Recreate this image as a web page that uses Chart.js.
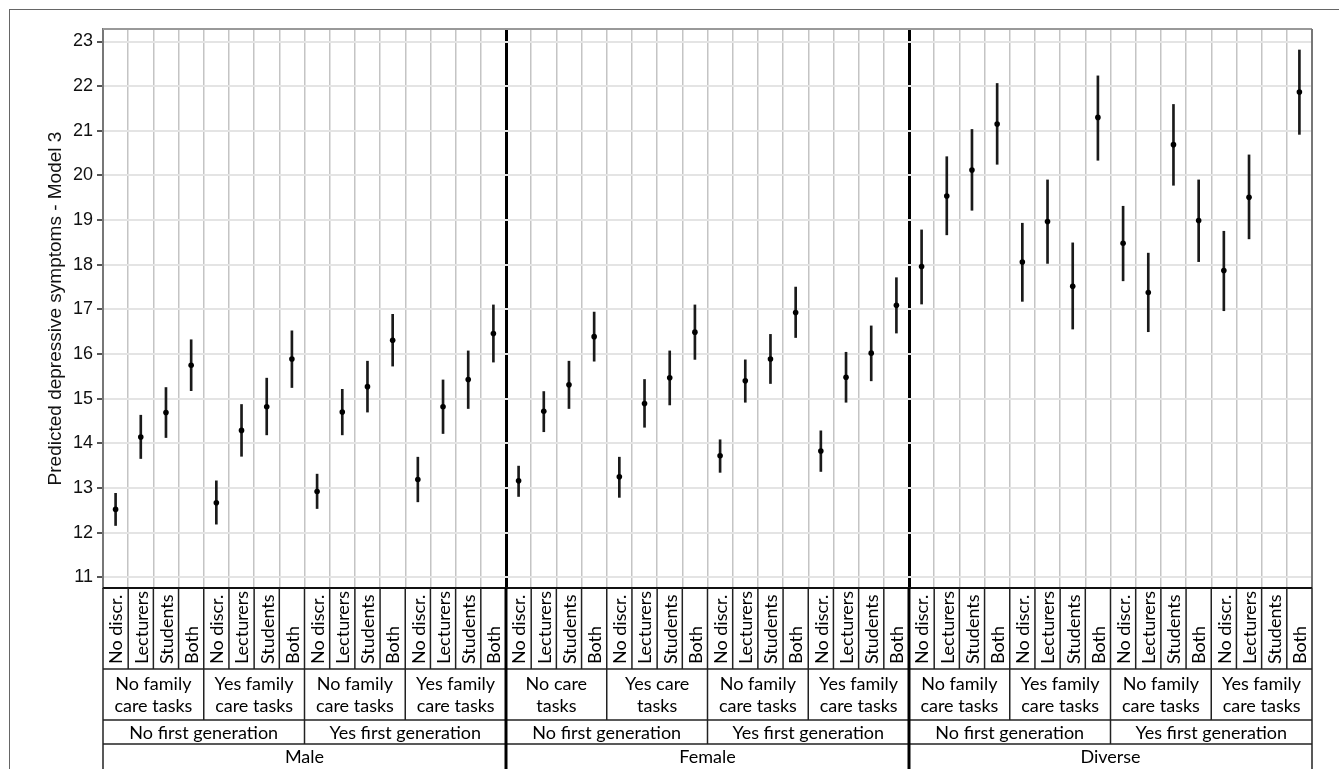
<!DOCTYPE html>
<html>
<head>
<meta charset="utf-8">
<script src="https://cdn.jsdelivr.net/npm/chart.js@4.4.1/dist/chart.umd.min.js"></script>
<style>
  html, body { margin: 0; padding: 0; background: #fff; }
  #wrap { position: relative; width: 1339px; height: 769px; overflow: hidden; }
  #frame { position: absolute; left: 9px; top: 9px; right: -2px; bottom: -2px;
           border-left: 1px solid #666; border-top: 1px solid #666; }
  canvas { position: absolute; left: 0; top: 0; }
</style>
</head>
<body>
<div id="wrap">
  <div id="frame"></div>
  <canvas id="chart" width="1339" height="769"></canvas>
</div>
<script>
// table labels, bottom to top level
const discrLabels = ['No discr.', 'Lecturers', 'Students', 'Both'];
const careLabels = [
    ['No family', 'care tasks'], ['Yes family', 'care tasks'], ['No family', 'care tasks'], ['Yes family', 'care tasks'],
    ['No care', 'tasks'], ['Yes care', 'tasks'], ['No family', 'care tasks'], ['Yes family', 'care tasks'],
    ['No family', 'care tasks'], ['Yes family', 'care tasks'], ['No family', 'care tasks'], ['Yes family', 'care tasks']
];
const firstGenLabels = ['No first generation', 'Yes first generation', 'No first generation',
    'Yes first generation', 'No first generation', 'Yes first generation'];
const genderLabels = ['Male', 'Female', 'Diverse'];

// predicted values and 95% CI
const estimates = [
    12.52, 14.14, 14.69, 15.75, 12.67, 14.29, 14.82, 15.89, 12.92, 14.70, 15.27, 16.31, 13.19, 14.82, 15.43, 16.46,
    13.16, 14.72, 15.31, 16.39, 13.25, 14.89, 15.47, 16.49, 13.72, 15.40, 15.89, 16.93, 13.83, 15.48, 16.02, 17.09,
    17.96, 19.54, 20.12, 21.15, 18.06, 18.97, 17.52, 21.30, 18.48, 17.38, 20.69, 18.99, 17.87, 19.51, null, 21.87
];
const lowerCI = [
    12.16, 13.66, 14.13, 15.18, 12.19, 13.71, 14.19, 15.25, 12.54, 14.19, 14.70, 15.73, 12.69, 14.22, 14.78, 15.82,
    12.81, 14.26, 14.78, 15.84, 12.79, 14.36, 14.86, 15.88, 13.35, 14.92, 15.34, 16.37, 13.37, 14.92, 15.40, 16.47,
    17.12, 18.67, 19.22, 20.25, 17.18, 18.03, 16.56, 20.34, 17.64, 16.50, 19.78, 18.07, 16.97, 18.58, null, 20.92
];
const upperCI = [
    12.88, 14.63, 15.25, 16.32, 13.16, 14.87, 15.46, 16.52, 13.31, 15.21, 15.84, 16.89, 13.69, 15.42, 16.07, 17.10,
    13.49, 15.16, 15.84, 16.94, 13.69, 15.43, 16.07, 17.10, 14.08, 15.87, 16.44, 17.50, 14.28, 16.04, 16.63, 17.71,
    18.78, 20.42, 21.03, 22.06, 18.93, 19.90, 18.49, 22.23, 19.31, 18.26, 21.59, 19.90, 18.75, 20.46, null, 22.81
];

const categories = estimates.map((v, i) => discrLabels[i % 4]);
const ciBars = lowerCI.map((lo, i) => lo === null ? null : [lo, upperCI[i]]);

const AXIS_FONT = '"Liberation Sans", Arial, Helvetica, sans-serif';
const TABLE_FONT = 'Lato, "Open Sans", sans-serif';

// frame around the plot area
const frame = {
    id: 'frame',
    beforeDatasetsDraw(chart) {
        const { ctx, chartArea: a } = chart;
        ctx.save();
        ctx.lineWidth = 2;
        ctx.strokeStyle = '#999';
        ctx.beginPath();
        ctx.moveTo(a.left, a.top); ctx.lineTo(a.right, a.top);
        ctx.stroke();
        ctx.strokeStyle = '#777';
        ctx.beginPath();
        ctx.moveTo(a.right, a.top); ctx.lineTo(a.right, a.bottom);
        ctx.stroke();
        ctx.restore();
    }
};

// nested label table under the x axis
const groupTable = {
    id: 'groupTable',
    afterDraw(chart) {
        const { ctx, chartArea: a } = chart;
        const x = chart.scales.x;
        const half = (x.getPixelForValue(1) - x.getPixelForValue(0)) / 2;
        const edge = i => x.getPixelForValue(i) - half;
        const rows = [a.bottom, a.bottom + 81, a.bottom + 132, a.bottom + 156, 771];

        ctx.save();
        ctx.strokeStyle = '#222';
        ctx.lineWidth = 1.5;
        // horizontal lines
        for (let r = 1; r < 4; r++) {
            ctx.beginPath();
            ctx.moveTo(edge(0), rows[r]); ctx.lineTo(edge(48), rows[r]);
            ctx.stroke();
        }
        ctx.lineWidth = 2;
        ctx.strokeStyle = '#111';
        ctx.beginPath();
        ctx.moveTo(edge(0), a.bottom); ctx.lineTo(edge(48), a.bottom);
        ctx.stroke();

        // vertical lines
        for (let i = 0; i <= 48; i++) {
            let depth = 1;
            if (i % 4 === 0) depth = 2;
            if (i % 8 === 0) depth = 3;
            if (i % 16 === 0) depth = 4;
            const thick = (i === 16 || i === 32);
            ctx.lineWidth = thick ? 3 : 1.5;
            ctx.strokeStyle = thick ? '#000' : '#222';
            ctx.beginPath();
            ctx.moveTo(edge(i), a.bottom);
            ctx.lineTo(edge(i), rows[depth]);
            ctx.stroke();
        }

        ctx.fillStyle = '#000';
        ctx.font = '18px ' + TABLE_FONT;
        // rotated discrimination labels
        categories.forEach((lab, i) => {
            ctx.save();
            ctx.translate(x.getPixelForValue(i) + 1, rows[1] - 5);
            ctx.rotate(-Math.PI / 2);
            ctx.textAlign = 'left';
            ctx.textBaseline = 'middle';
            ctx.fillText(lab, 0, 0);
            ctx.restore();
        });
        ctx.textAlign = 'center';
        ctx.textBaseline = 'middle';
        careLabels.forEach((lines, g) => {
            const cx = (edge(g * 4) + edge(g * 4 + 4)) / 2;
            ctx.fillText(lines[0], cx, rows[1] + 15);
            ctx.fillText(lines[1], cx, rows[1] + 37);
        });
        firstGenLabels.forEach((lab, g) => {
            const cx = (edge(g * 8) + edge(g * 8 + 8)) / 2;
            ctx.fillText(lab, cx, rows[2] + 13);
        });
        genderLabels.forEach((lab, g) => {
            const cx = (edge(g * 16) + edge(g * 16 + 16)) / 2;
            ctx.fillText(lab, cx, rows[3] + 13);
        });
        ctx.restore();
    }
};

const ctx = document.getElementById('chart').getContext('2d');
new Chart(ctx, {
    type: 'bar',
    data: {
        labels: categories,
        datasets: [
            {
                type: 'line',
                label: 'Predicted',
                data: estimates,
                showLine: false,
                pointRadius: 2.8,
                pointBackgroundColor: '#000',
                pointBorderWidth: 0,
                order: 1
            },
            {
                type: 'bar',
                label: '95% CI',
                data: ciBars,
                backgroundColor: '#1a1a1a',
                borderWidth: 0,
                barThickness: 2,
                order: 2
            }
        ]
    },
    options: {
        responsive: false,
        animation: false,
        devicePixelRatio: 1,
        layout: { padding: { left: 0, top: 29, right: 27, bottom: 181 } },
        plugins: {
            legend: { display: false },
            tooltip: { enabled: false }
        },
        scales: {
            x: {
                ticks: { display: false },
                border: { display: false },
                grid: {
                    offset: true,
                    drawTicks: false,
                    color: c => (c.index === 16 || c.index === 32) ? '#000'
                        : (c.index === 0 || c.index === undefined) ? 'rgba(0,0,0,0)' : '#c4c4c4',
                    lineWidth: c => (c.index === 16 || c.index === 32) ? 3 : 1.5
                },
                afterFit: s => { s.height = 0; }
            },
            y: {
                min: 10.76,
                max: 23.28,
                ticks: {
                    stepSize: 1,
                    includeBounds: false,
                    color: '#111',
                    padding: 4,
                    font: { family: AXIS_FONT, size: 18 }
                },
                grid: {
                    color: '#e4e4e4',
                    lineWidth: 2,
                    tickColor: '#555',
                    tickLength: 6
                },
                border: { color: '#777', width: 2 },
                title: {
                    display: true,
                    text: 'Predicted depressive symptoms - Model 3',
                    color: '#111',
                    font: { family: AXIS_FONT, size: 19 },
                    padding: { top: 44, bottom: 0 }
                },
                afterFit: s => { s.width = 103; }
            }
        }
    },
    plugins: [frame, groupTable]
});
</script>
</body>
</html>
